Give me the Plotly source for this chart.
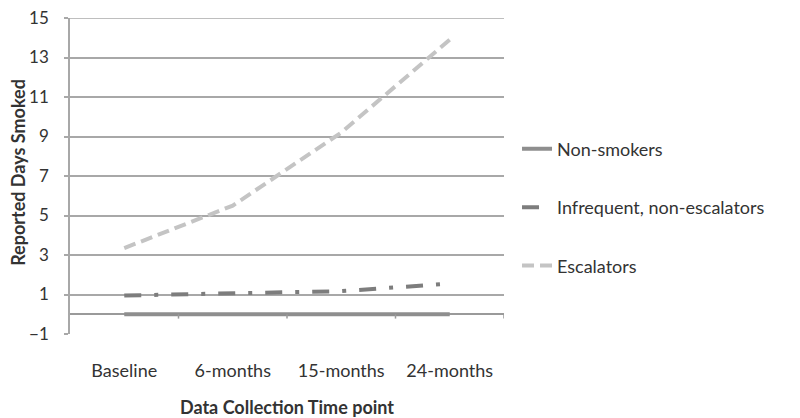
import plotly.graph_objects as go

categories = ["Baseline", "6-months", "15-months", "24-months"]
non_smokers = [0, 0, 0, 0]
infrequent = [0.95, 1.05, 1.17, 1.55]
escalators = [3.35, 5.5, 9.2, 13.9]
y_ticks = [-1, 1, 3, 5, 7, 9, 11, 13, 15]

FONT = "Lato"
TXT = "#333333"
GRID = "#a8a8a8"
fig = go.Figure()
fig.add_trace(go.Scatter(x=categories, y=non_smokers, mode="lines", name="Non-smokers",
                         legendgroup="a",
                         line=dict(color="#8e8e8e", width=4)))
fig.add_trace(go.Scatter(x=categories, y=infrequent, mode="lines", name="Infrequent, non-escalators",
                         legendgroup="b",
                         line=dict(color="#7d7d7d", width=4, dash="17px,13px,4px,13px")))
fig.add_trace(go.Scatter(x=categories, y=escalators, mode="lines", name="Escalators",
                         legendgroup="c",
                         line=dict(color="#c4c4c4", width=4, dash="12px,6px")))

# category tick marks on the x axis line (which crosses at y=0)
for b in [0.5, 1.5, 2.5, 3.5]:
    fig.add_shape(type="line", xref="x", yref="y", x0=b, x1=b, y0=0, y1=-0.22,
                  line=dict(color="#9a9a9a", width=1.5))
# top gridline (plotly drops grid lines at the very edge of the range)
fig.add_shape(type="line", xref="paper", yref="y", x0=0, x1=1, y0=y_ticks[-1], y1=y_ticks[-1],
              line=dict(color=GRID, width=1.5), layer="below")

fig.add_annotation(text="<b>Reported Days Smoked</b>", textangle=-90, xref="paper", yref="paper",
                   x=-0.1198, y=0.51, xanchor="center", yanchor="middle", showarrow=False,
                   font=dict(family=FONT, size=18, color=TXT))

# page body has an 8px margin, so the figure is 8px smaller and margins shifted
fig.update_layout(
    width=792, height=410,
    margin=dict(l=62, r=296, t=10, b=84),
    paper_bgcolor="white", plot_bgcolor="white",
    font=dict(family=FONT, size=18, color=TXT),
    showlegend=True,
    legend=dict(x=1.03, y=0.40, xanchor="left", yanchor="middle",
                font=dict(family=FONT, size=18, color=TXT),
                tracegroupgap=32, itemwidth=30, bgcolor="rgba(0,0,0,0)"),
    xaxis=dict(type="category", range=[-0.5, 3.5], showgrid=False, showline=False,
               ticks="", tickfont=dict(size=18), automargin=False, ticklabelstandoff=24,
               title=dict(text="<b>Data Collection Time point</b>", font=dict(size=18), standoff=24)),
    yaxis=dict(range=[-1, 15], tickvals=y_ticks, showgrid=True, gridcolor=GRID, gridwidth=1.5,
               showline=True, linecolor=GRID, linewidth=1.5, ticks="outside", ticklen=4,
               tickcolor=GRID, tickwidth=1.5, automargin=False, ticklabelstandoff=12,
               ticklabeloverflow="allow",
               zeroline=True, zerolinecolor="#9a9a9a", zerolinewidth=1.5,
               tickfont=dict(size=17)),
)
fig.write_html("out.html")
